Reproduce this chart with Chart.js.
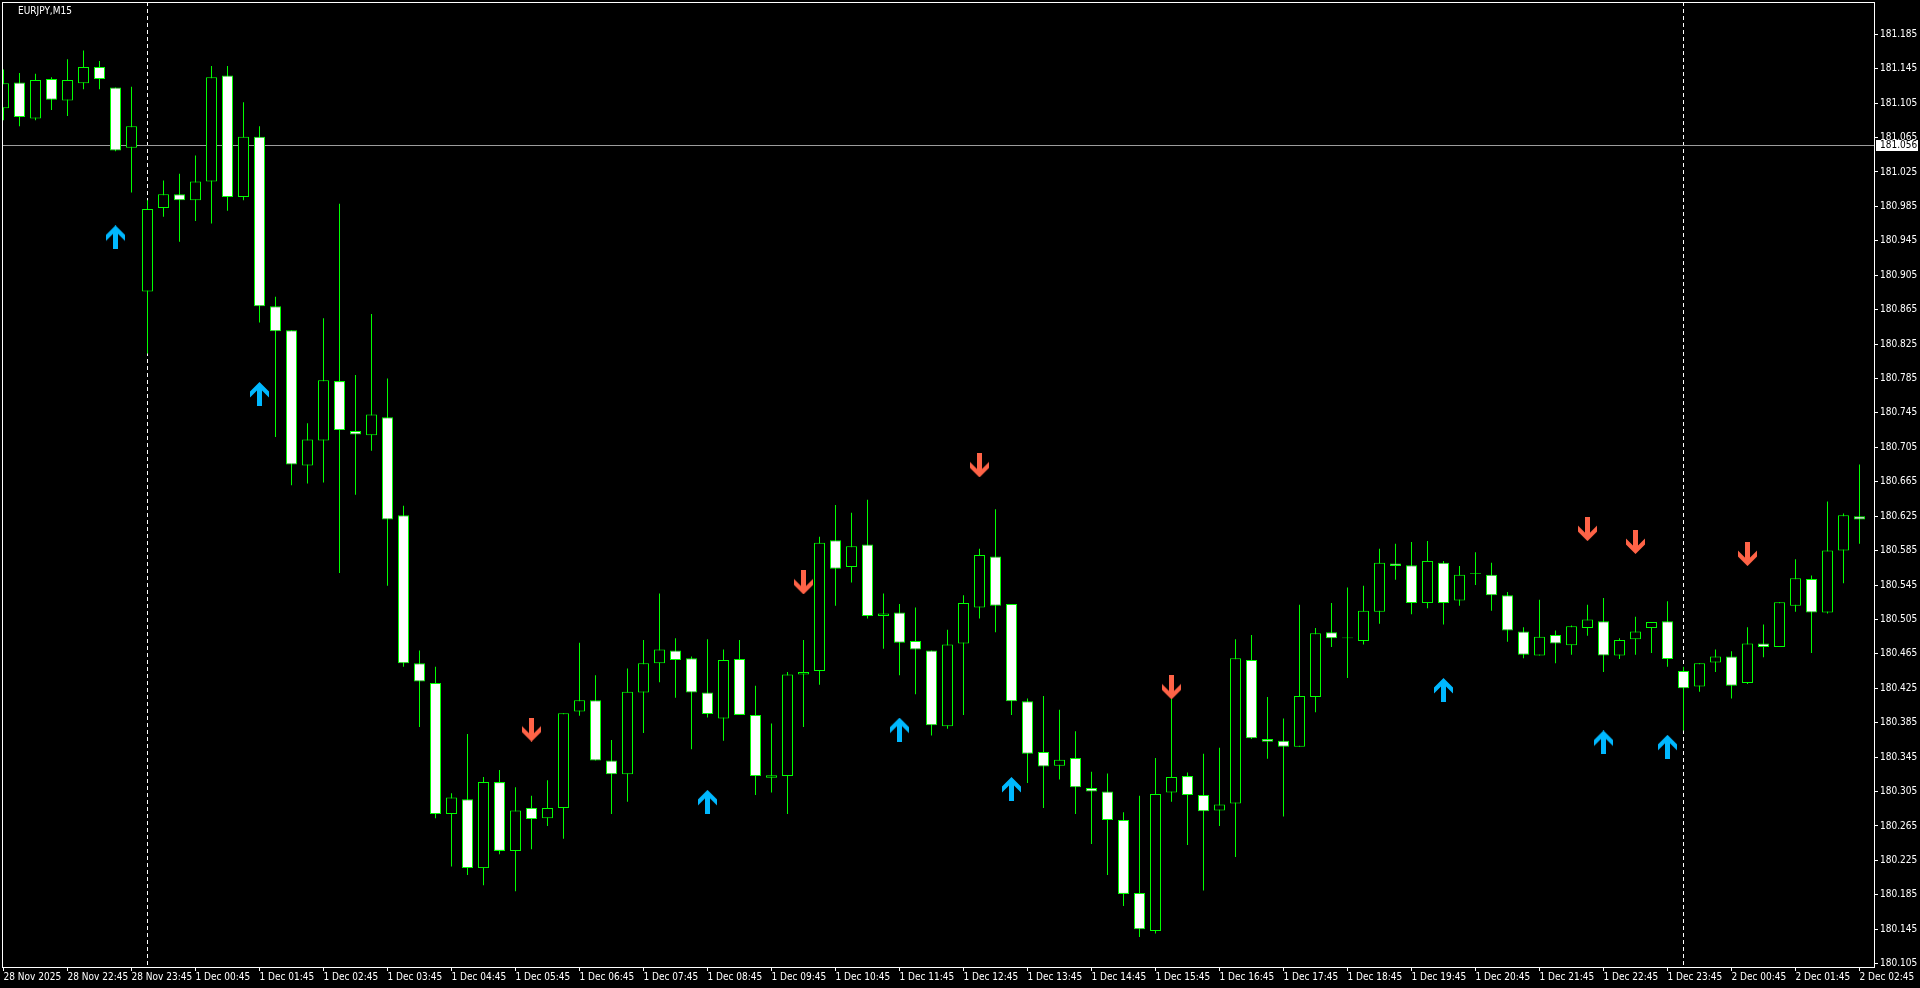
<!DOCTYPE html>
<html>
<head>
<meta charset="utf-8">
<title>EURJPY,M15</title>
<script src="https://cdn.jsdelivr.net/npm/chart.js@4/dist/chart.umd.min.js"></script>
<style>
  html, body { margin: 0; padding: 0; background: #000; overflow: hidden; }
  #chart { display: block; }
</style>
</head>
<body>
<canvas id="chart" width="1920" height="988"></canvas>
<script>
const symbolTitle = 'EURJPY,M15';

const opens = [
    181.099, 181.129, 181.087, 181.133, 181.108, 181.128, 181.147, 181.123, 181.053, 180.886,
    180.983, 180.999, 180.992, 181.014, 181.137, 180.996, 181.066, 180.869, 180.841, 180.684,
    180.713, 180.782, 180.724, 180.719, 180.740, 180.626, 180.454, 180.431, 180.279, 180.296,
    180.216, 180.316, 180.236, 180.286, 180.274, 180.286, 180.398, 180.411, 180.341, 180.325,
    180.420, 180.454, 180.469, 180.460, 180.420, 180.390, 180.459, 180.394, 180.321, 180.323,
    180.441, 180.445, 180.597, 180.566, 180.592, 180.509, 180.513, 180.480, 180.469, 180.381,
    180.477, 180.519, 180.578, 180.523, 180.410, 180.351, 180.335, 180.344, 180.309, 180.305,
    180.272, 180.187, 180.143, 180.304, 180.323, 180.301, 180.283, 180.291, 180.458, 180.366,
    180.364, 180.357, 180.415, 180.490, 180.483, 180.480, 180.514, 180.570, 180.568, 180.524,
    180.571, 180.527, 180.558, 180.557, 180.533, 180.491, 180.463, 180.487, 180.475, 180.495,
    180.503, 180.463, 180.482, 180.495, 180.503, 180.445, 180.427, 180.455, 180.462, 180.431,
    180.477, 180.473, 180.521, 180.552, 180.513, 180.585, 180.625
];
const highs = [
    181.144, 181.140, 181.139, 181.135, 181.156, 181.166, 181.154, 181.123, 181.124, 180.992,
    181.015, 181.023, 181.044, 181.148, 181.148, 181.106, 181.078, 180.880, 180.841, 180.733,
    180.855, 180.988, 180.789, 180.860, 180.785, 180.637, 180.469, 180.450, 180.303, 180.372,
    180.322, 180.330, 180.310, 180.300, 180.318, 180.396, 180.478, 180.440, 180.365, 180.448,
    180.481, 180.535, 180.483, 180.462, 180.482, 180.470, 180.481, 180.428, 180.384, 180.444,
    180.481, 180.601, 180.638, 180.629, 180.644, 180.535, 180.523, 180.519, 180.469, 180.493,
    180.533, 180.587, 180.633, 180.523, 180.413, 180.416, 180.400, 180.375, 180.328, 180.326,
    180.281, 180.300, 180.344, 180.413, 180.327, 180.349, 180.356, 180.482, 180.487, 180.415,
    180.390, 180.522, 180.495, 180.524, 180.542, 180.544, 180.587, 180.593, 180.595, 180.596,
    180.573, 180.567, 180.583, 180.571, 180.537, 180.496, 180.528, 180.492, 180.498, 180.522,
    180.530, 180.483, 180.508, 180.502, 180.526, 180.450, 180.454, 180.470, 180.468, 180.496,
    180.499, 180.525, 180.575, 180.556, 180.642, 180.628, 180.685
];
const lows = [
    181.085, 181.078, 181.085, 181.097, 181.090, 181.121, 181.121, 181.049, 181.001, 180.814,
    180.973, 180.944, 180.968, 180.965, 180.980, 180.992, 180.850, 180.717, 180.661, 180.663,
    180.664, 180.559, 180.650, 180.701, 180.544, 180.450, 180.380, 180.274, 180.218, 180.208,
    180.196, 180.232, 180.189, 180.238, 180.265, 180.250, 180.393, 180.341, 180.279, 180.293,
    180.373, 180.432, 180.414, 180.354, 180.391, 180.364, 180.394, 180.301, 180.304, 180.279,
    180.380, 180.429, 180.521, 180.548, 180.506, 180.471, 180.440, 180.418, 180.370, 180.378,
    180.394, 180.506, 180.490, 180.394, 180.315, 180.286, 180.319, 180.279, 180.244, 180.208,
    180.172, 180.136, 180.140, 180.293, 180.243, 180.190, 180.265, 180.229, 180.366, 180.343,
    180.276, 180.357, 180.397, 180.473, 180.437, 180.476, 180.500, 180.551, 180.511, 180.518,
    180.499, 180.521, 180.545, 180.515, 180.479, 180.460, 180.463, 180.454, 180.464, 180.486,
    180.444, 180.459, 180.464, 180.466, 180.450, 180.376, 180.421, 180.444, 180.413, 180.430,
    180.461, 180.473, 180.514, 180.466, 180.512, 180.547, 180.593
];
const closes = [
    181.128, 181.089, 181.132, 181.109, 181.132, 181.147, 181.133, 181.050, 181.078, 180.982,
    180.999, 180.992, 181.014, 181.135, 180.996, 181.066, 180.869, 180.840, 180.685, 180.714,
    180.783, 180.725, 180.720, 180.743, 180.621, 180.454, 180.433, 180.279, 180.298, 180.216,
    180.316, 180.236, 180.283, 180.273, 180.286, 180.396, 180.411, 180.341, 180.325, 180.421,
    180.454, 180.470, 180.458, 180.420, 180.395, 180.458, 180.394, 180.323, 180.324, 180.441,
    180.444, 180.594, 180.564, 180.590, 180.509, 180.512, 180.478, 180.470, 180.382, 180.476,
    180.524, 180.580, 180.521, 180.410, 180.349, 180.334, 180.342, 180.310, 180.305, 180.272,
    180.186, 180.145, 180.302, 180.322, 180.301, 180.282, 180.290, 180.460, 180.367, 180.363,
    180.357, 180.416, 180.489, 180.483, 180.484, 180.515, 180.571, 180.567, 180.524, 180.573,
    180.524, 180.557, 180.559, 180.533, 180.492, 180.464, 180.485, 180.477, 180.497, 180.505,
    180.463, 180.481, 180.491, 180.502, 180.459, 180.425, 180.454, 180.462, 180.428, 180.477,
    180.473, 180.525, 180.553, 180.513, 180.585, 180.626, 180.621
];

// one label every 4 bars (hourly on M15)
const xTickLabels = [
    '28 Nov 2025', '28 Nov 22:45', '28 Nov 23:45', '1 Dec 00:45', '1 Dec 01:45', '1 Dec 02:45',
    '1 Dec 03:45', '1 Dec 04:45', '1 Dec 05:45', '1 Dec 06:45', '1 Dec 07:45', '1 Dec 08:45',
    '1 Dec 09:45', '1 Dec 10:45', '1 Dec 11:45', '1 Dec 12:45', '1 Dec 13:45', '1 Dec 14:45',
    '1 Dec 15:45', '1 Dec 16:45', '1 Dec 17:45', '1 Dec 18:45', '1 Dec 19:45', '1 Dec 20:45',
    '1 Dec 21:45', '1 Dec 22:45', '1 Dec 23:45', '2 Dec 00:45', '2 Dec 01:45', '2 Dec 02:45'
];
const yTickValues = [
    181.185, 181.145, 181.105, 181.065, 181.025, 180.985, 180.945, 180.905, 180.865, 180.825,
    180.785, 180.745, 180.705, 180.665, 180.625, 180.585, 180.545, 180.505, 180.465, 180.425,
    180.385, 180.345, 180.305, 180.265, 180.225, 180.185, 180.145, 180.105
];

const buyArrowBars = [7, 16, 44, 56, 63, 90, 100, 104];
const buyArrowPrices = [180.949, 180.767, 180.293, 180.377, 180.308, 180.423, 180.362, 180.357];
const sellArrowBars = [33, 50, 61, 73, 99, 102, 109];
const sellArrowPrices = [180.377, 180.548, 180.684, 180.426, 180.610, 180.595, 180.581];

const priceLine = 181.056;
const daySeparators = [9, 105];

const fontFamily = "'DejaVu Sans Condensed', 'DejaVu Sans', sans-serif";
const candleGreen = '#00ff00';

function makeArrow(color, down) {
    const c = document.createElement('canvas');
    c.width = 19;
    c.height = 24;
    const g = c.getContext('2d');
    const pts = [[9.5, 0], [19, 9.5], [19, 15.5], [12, 8.5], [12, 24], [7, 24], [7, 8.5], [0, 15.5], [0, 9.5]];
    g.fillStyle = color;
    g.beginPath();
    pts.forEach(([px, py], i) => {
        const yy = down ? 24 - py : py;
        if (i === 0) g.moveTo(px, yy); else g.lineTo(px, yy);
    });
    g.closePath();
    g.fill();
    return c;
}

const chartFrame = {
    id: 'chartFrame',
    beforeDatasetsDraw(chart) {
        const { ctx, chartArea: a, scales: { x, y } } = chart;
        ctx.save();
        ctx.strokeStyle = '#ffffff';
        ctx.lineWidth = 1;
        ctx.setLineDash([4, 3]);
        daySeparators.forEach(k => {
            const px = Math.floor(x.getPixelForValue(k)) + 0.5;
            ctx.beginPath();
            ctx.moveTo(px, a.top);
            ctx.lineTo(px, a.bottom);
            ctx.stroke();
        });
        ctx.setLineDash([]);
        const py = Math.round(y.getPixelForValue(priceLine)) + 0.5;
        ctx.strokeStyle = '#9c9c9c';
        ctx.beginPath();
        ctx.moveTo(a.left, py);
        ctx.lineTo(a.right, py);
        ctx.stroke();
        ctx.restore();
    },
    afterDraw(chart) {
        const { ctx, chartArea: a, scales: { y } } = chart;
        ctx.save();
        ctx.strokeStyle = '#ffffff';
        ctx.lineWidth = 1;
        ctx.strokeRect(a.left + 0.5, a.top + 0.5, a.right - a.left, a.bottom - a.top);

        // price label box on the right scale
        const py = Math.round(y.getPixelForValue(priceLine));
        ctx.fillStyle = '#ffffff';
        ctx.fillRect(a.right + 2, py - 5, 42, 11);
        ctx.fillStyle = '#000000';
        ctx.font = '10px ' + fontFamily;
        ctx.textBaseline = 'middle';
        ctx.textAlign = 'left';
        ctx.fillText(priceLine.toFixed(3), a.right + 6, py + 0.5);

        ctx.fillStyle = '#ffffff';
        ctx.fillText(symbolTitle, 18, 11);
        ctx.restore();
    }
};

const bodyData = opens.map((o, i) => ({ x: i, y: [o, closes[i]] }));
const wickData = lows.map((l, i) => ({ x: i, y: [l, highs[i]] }));
const bodyFill = opens.map((o, i) => closes[i] < o ? '#ffffff' : '#000000');

new Chart(document.getElementById('chart'), {
    type: 'bar',
    data: {
        datasets: [
            {
                type: 'scatter',
                data: buyArrowBars.map((k, i) => ({ x: k, y: buyArrowPrices[i] })),
                pointStyle: makeArrow('#00b8ff', false),
                pointRadius: 5,
                order: 0
            },
            {
                type: 'scatter',
                data: sellArrowBars.map((k, i) => ({ x: k, y: sellArrowPrices[i] })),
                pointStyle: makeArrow('#ff6347', true),
                pointRadius: 5,
                order: 0
            },
            {
                data: bodyData,
                backgroundColor: bodyFill,
                borderColor: candleGreen,
                borderWidth: 1,
                borderSkipped: false,
                inflateAmount: 0,
                barThickness: 11,
                grouped: false,
                order: 1
            },
            {
                data: wickData,
                backgroundColor: candleGreen,
                borderWidth: 0,
                inflateAmount: 0,
                barThickness: 1,
                grouped: false,
                order: 2
            }
        ]
    },
    options: {
        responsive: false,
        animation: false,
        devicePixelRatio: 1,
        events: [],
        layout: { autoPadding: false, padding: { left: 2, top: 2, right: 0, bottom: 0 } },
        plugins: { legend: { display: false }, tooltip: { enabled: false } },
        scales: {
            x: {
                type: 'linear',
                min: -0.09375,
                max: 116.90625,
                offset: false,
                afterBuildTicks: s => { s.ticks = xTickLabels.map((t, i) => ({ value: i * 4 })); },
                afterFit: s => {
                    s.height = 21;
                    s.paddingLeft = 0;
                    s.paddingRight = 0;
                },
                grid: { drawOnChartArea: false, drawTicks: true, tickLength: 4, color: '#ffffff', offset: false },
                border: { display: false },
                ticks: {
                    color: '#ffffff',
                    font: { family: fontFamily, size: 10 },
                    padding: 0,
                    align: 'start',
                    maxRotation: 0,
                    autoSkip: false,
                    callback: v => xTickLabels[Math.round(v / 4)]
                }
            },
            y: {
                position: 'right',
                min: 180.1011,
                max: 181.2225,
                afterBuildTicks: s => { s.ticks = yTickValues.map(v => ({ value: v })); },
                afterFit: s => {
                    s.width = 46;
                    s.paddingTop = 0;
                    s.paddingBottom = 0;
                },
                grid: { drawOnChartArea: false, drawTicks: true, tickLength: 4, color: '#ffffff' },
                border: { display: false },
                ticks: {
                    color: '#ffffff',
                    font: { family: fontFamily, size: 10 },
                    padding: 2,
                    autoSkip: false,
                    callback: v => v.toFixed(3)
                }
            }
        }
    },
    plugins: [chartFrame]
});
</script>
</body>
</html>
